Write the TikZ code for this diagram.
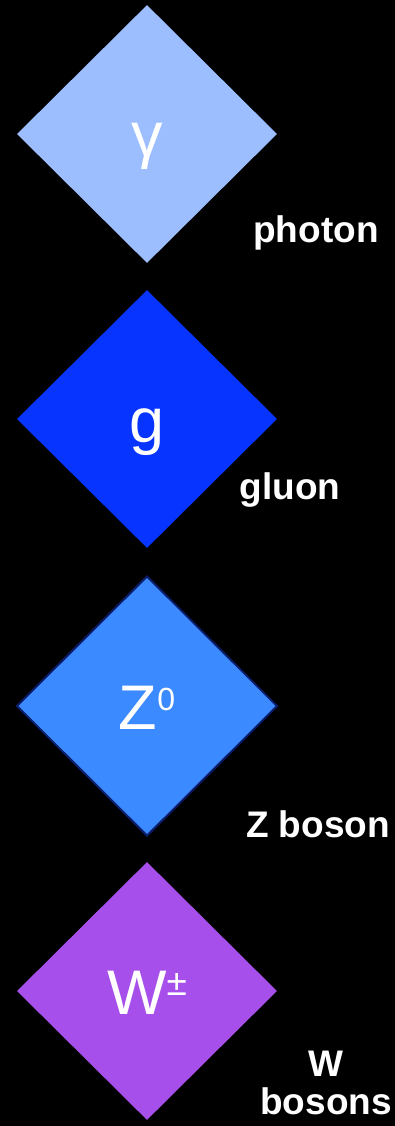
\documentclass[tikz,border=0pt]{standalone}
\usepackage{fontspec}
\setmainfont{Liberation Sans}
\usetikzlibrary{shapes.geometric}
\definecolor{cphoton}{HTML}{9CBEFF}
\definecolor{cgluon}{HTML}{0735FF}
\definecolor{czboson}{HTML}{3C8AFF}
\definecolor{czborder}{HTML}{0B1D6B}
\definecolor{cwboson}{HTML}{A74FEA}
\tikzset{
  boson/.style={diamond, shape aspect=1, inner sep=0pt, minimum width=260pt, minimum height=258pt,
    text=white, font=\fontsize{63}{63}\selectfont, text height=46pt, text depth=0pt},
  blabel/.style={text=white, font=\bfseries\fontsize{37}{38}\selectfont, anchor=base, inner sep=0pt, align=center},
}
\begin{document}
\begin{tikzpicture}[x=1pt,y=1pt]
\fill[black] (0,0) rectangle (395,-1126);
\useasboundingbox (0,0) rectangle (395,-1126);
\node[boson, fill=cphoton] (photon) at (147,-134) {γ};
\node[boson, fill=cgluon] (gluon) at (147,-419) {g};
\node[boson, fill=czboson, draw=czborder, line width=2pt, minimum width=261pt, minimum height=260pt] (zboson) at (147,-706) {Z\raisebox{19pt}{\fontsize{32}{32}\selectfont 0}};
\node[boson, fill=cwboson] (wboson) at (147,-991) {W\raisebox{19pt}{\fontsize{37}{37}\selectfont ±}};
\node[blabel] (lphoton) at (316,-242) {photon};
\node[blabel] (lgluon) at (290,-499) {gluon};
\node[blabel] (lzboson) at (318,-837) {Z boson};
\node[blabel] (lwboson) at (326,-1114) {W\\bosons};
\end{tikzpicture}
\end{document}
